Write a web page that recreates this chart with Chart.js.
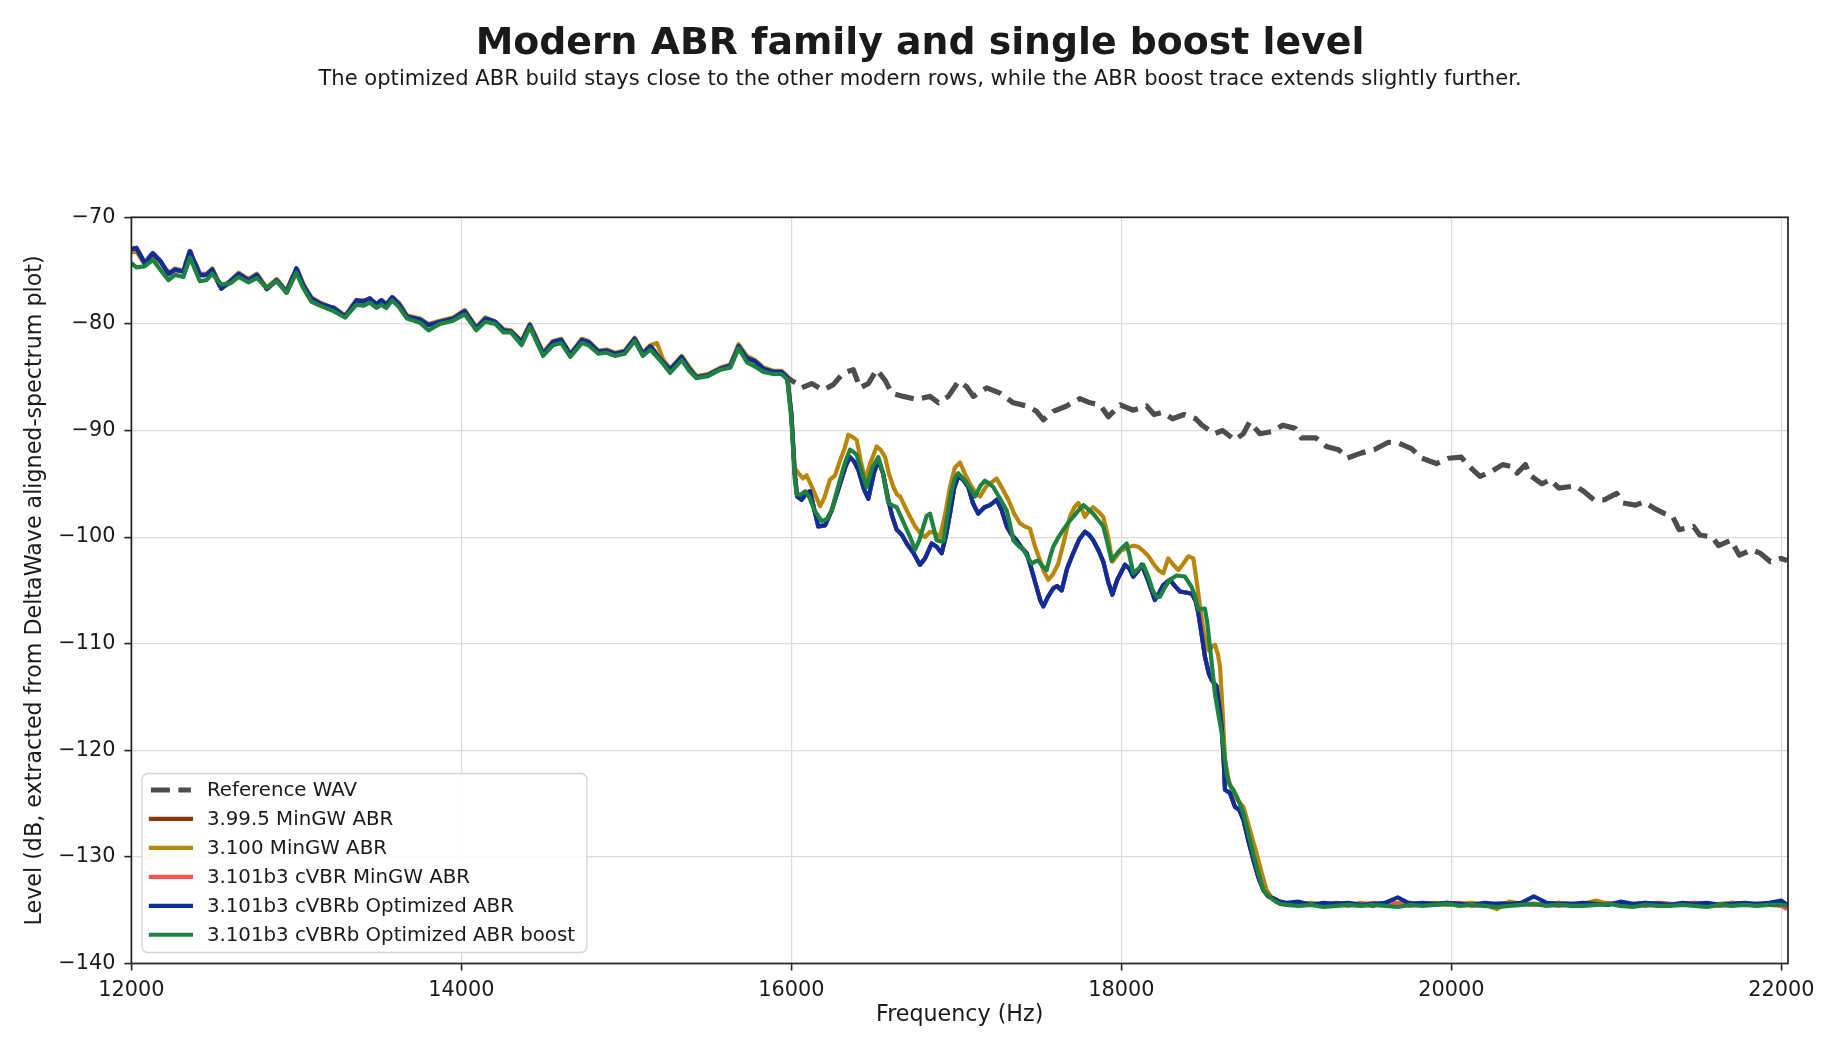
<!DOCTYPE html>
<html>
<head>
<meta charset="utf-8">
<title>Modern ABR family and single boost level</title>
<script src="https://cdn.jsdelivr.net/npm/chart.js@4.4.1/dist/chart.umd.min.js"></script>
<style>
  html, body { margin: 0; padding: 0; background: #fff; }
</style>
</head>
<body>
<canvas id="spectrum" width="1840" height="1056"></canvas>
<script>
"use strict";

//------------------------- data ---------------------------------------------
// 12000 - 16000 Hz, all encoders still follow the source
const headHz = [
  12000, 12030, 12080, 12130, 12180, 12225, 12265, 12315, 12355, 12415,
  12455, 12490, 12545, 12600, 12650, 12710, 12760, 12820, 12880, 12940,
  13000, 13040, 13090, 13145, 13225, 13295, 13365, 13405, 13445, 13485,
  13515, 13545, 13580, 13620, 13670, 13750, 13800, 13870, 13950, 14020,
  14090, 14145, 14205, 14255, 14300, 14365, 14415, 14495, 14555, 14605,
  14660, 14730, 14770, 14830, 14880, 14930, 14990, 15050, 15100, 15145,
  15185, 15225, 15265, 15335, 15380, 15425, 15495, 15570, 15630, 15680,
  15730, 15780, 15830, 15890, 15940, 15975
];
const headDb = [
  -73.0, -72.9, -74.3, -73.4, -74.2, -75.3, -74.9, -75.1, -73.2, -75.4,
  -75.4, -74.9, -76.7, -76.0, -75.3, -75.9, -75.4, -76.7, -75.9, -77.0,
  -74.8, -76.3, -77.6, -78.1, -78.5, -79.3, -77.8, -77.9, -77.6, -78.2,
  -77.8, -78.2, -77.5, -78.1, -79.3, -79.6, -80.1, -79.8, -79.5, -78.8,
  -80.4, -79.5, -79.8, -80.6, -80.7, -81.7, -80.1, -82.8, -81.7, -81.5,
  -82.9, -81.5, -81.7, -82.6, -82.5, -82.8, -82.6, -81.4, -82.8, -82.1,
  -82.9, -83.6, -84.3, -83.1, -84.2, -85.0, -84.8, -84.2, -83.9, -82.1,
  -83.2, -83.5, -84.2, -84.5, -84.5, -85.0
];
const goldHeadDb = [
  -73.3, -73.2, -74.4, -73.6, -74.3, -75.3, -74.8, -75.0, -73.5, -75.3,
  -75.3, -74.8, -76.6, -76.0, -75.2, -75.8, -75.3, -76.6, -75.8, -76.9,
  -74.9, -76.2, -77.5, -78.0, -78.5, -79.2, -77.8, -77.8, -77.7, -78.1,
  -77.9, -78.1, -77.6, -78.0, -79.2, -79.5, -80.0, -79.7, -79.4, -78.7,
  -80.3, -79.4, -79.8, -80.5, -80.6, -81.6, -80.0, -82.7, -81.6, -81.4,
  -82.8, -81.4, -81.6, -82.5, -82.4, -82.7, -82.5, -81.3, -82.7, -82.0,
  -81.8, -83.4, -84.2, -83.0, -84.0, -84.9, -84.7, -84.1, -83.8, -81.9,
  -83.0, -83.4, -84.1, -84.4, -84.4, -84.9
];
const boostHeadDb = [
  -74.3, -74.7, -74.6, -74.0, -75.0, -75.9, -75.4, -75.6, -73.8, -76.0,
  -75.9, -75.3, -76.3, -76.2, -75.6, -76.1, -75.7, -76.6, -76.0, -77.1,
  -75.2, -76.6, -77.9, -78.3, -78.8, -79.4, -78.2, -78.3, -78.0, -78.5,
  -78.2, -78.5, -77.8, -78.4, -79.5, -79.9, -80.6, -80.0, -79.7, -79.1,
  -80.6, -79.8, -80.0, -80.8, -80.8, -82.0, -80.3, -83.0, -82.0, -81.8,
  -83.1, -81.8, -82.0, -82.8, -82.7, -83.0, -82.8, -81.6, -83.0, -82.4,
  -83.1, -83.8, -84.6, -83.4, -84.4, -85.1, -84.9, -84.3, -84.1, -82.3,
  -83.6, -84.0, -84.5, -84.7, -84.7, -85.2
];

// 16000 - 19000 Hz, lowpass region (3.99.5 / cVBR MinGW / cVBRb optimized)
const dropHz = [
  16000, 16020, 16035, 16062, 16085, 16113, 16140, 16163, 16204, 16244,
  16295, 16330, 16355, 16380, 16406, 16440, 16466, 16500, 16527, 16555,
  16587, 16610, 16638, 16670, 16699, 16740, 16779, 16810, 16850, 16880,
  16911, 16935, 16961, 16985, 17011, 17040, 17072, 17100, 17132, 17170,
  17203, 17244, 17275, 17305, 17335, 17365, 17395, 17426, 17455, 17486,
  17510, 17527, 17555, 17587, 17610, 17638, 17670, 17708, 17745, 17779,
  17805, 17829, 17860, 17890, 17920, 17945, 17975, 18022, 18050, 18072,
  18100, 18123, 18160, 18203, 18230, 18254, 18294, 18325, 18355, 18390,
  18426, 18450, 18466, 18490, 18506, 18530, 18547, 18577, 18595, 18608,
  18620, 18628, 18658, 18688, 18715, 18739, 18770, 18800, 18830, 18860,
  18890, 18921, 18960
];
const dropDb = [
  -88.5, -94.0, -96.2, -96.5, -96.0, -95.7, -97.5, -99.0, -98.9, -97.5,
  -95.0, -93.3, -92.5, -92.9, -93.7, -95.5, -96.4, -94.0, -92.8, -94.0,
  -96.5, -98.0, -99.3, -99.8, -100.6, -101.5, -102.6, -102.0, -100.6, -100.9,
  -101.5, -100.0, -97.8, -95.5, -94.3, -94.6, -95.3, -96.8, -97.8, -97.2,
  -97.0, -96.5, -97.5, -99.0, -99.8, -100.3, -101.0, -101.5, -103.0, -104.7,
  -106.0, -106.5, -105.6, -104.8, -104.6, -105.0, -103.0, -101.5, -100.2, -99.5,
  -99.8, -100.3, -101.2, -102.3, -104.2, -105.4, -104.0, -102.6, -103.0, -103.7,
  -103.2, -102.6, -104.0, -105.9, -105.2, -104.5, -104.0, -104.6, -105.1, -105.2,
  -105.3, -106.0, -107.1, -109.5, -111.2, -112.8, -113.4, -114.0, -116.0, -117.8,
  -121.0, -123.7, -124.0, -125.3, -125.6, -126.5, -128.5, -130.3, -131.9, -133.1,
  -133.7, -133.9, -134.2
];

// 3.100 MinGW ABR
const goldDropHz = [
  16000, 16020, 16042, 16070, 16092, 16133, 16174, 16200, 16234, 16265,
  16295, 16320, 16345, 16370, 16396, 16420, 16446, 16480, 16517, 16540,
  16568, 16590, 16618, 16640, 16659, 16690, 16719, 16750, 16779, 16810,
  16840, 16870, 16900, 16930, 16961, 16990, 17022, 17050, 17082, 17115,
  17143, 17170, 17193, 17220, 17244, 17280, 17315, 17350, 17385, 17415,
  17446, 17475, 17507, 17530, 17557, 17585, 17617, 17650, 17688, 17715,
  17739, 17760, 17779, 17805, 17829, 17860, 17890, 17920, 17945, 17970,
  17995, 18035, 18072, 18100, 18133, 18165, 18194, 18225, 18254, 18284,
  18315, 18345, 18375, 18406, 18436, 18455, 18476, 18500, 18527, 18548,
  18567, 18585, 18598, 18612, 18628, 18650, 18668, 18700, 18739, 18780,
  18820, 18850, 18880, 18910, 18950
];
const goldDropDb = [
  -88.5, -93.5, -94.0, -94.5, -94.2, -95.6, -97.1, -96.3, -94.6, -94.2,
  -92.8, -91.8, -90.4, -90.6, -90.9, -92.8, -94.6, -93.0, -91.5, -91.8,
  -92.5, -94.0, -95.3, -96.0, -96.2, -97.2, -98.1, -99.0, -99.6, -100.0,
  -99.5, -99.6, -100.0, -98.0, -95.3, -93.5, -93.0, -94.0, -95.0, -95.8,
  -96.2, -95.5, -95.0, -94.8, -94.5, -95.5, -96.5, -97.8, -98.7, -99.0,
  -99.2, -100.8, -102.2, -103.2, -104.0, -103.5, -102.5, -100.5, -98.1, -97.2,
  -96.8, -97.4, -98.1, -97.5, -97.2, -97.6, -98.1, -100.0, -102.3, -101.8,
  -101.3, -101.0, -100.8, -100.9, -101.3, -101.8, -102.5, -103.1, -103.4, -102.0,
  -102.6, -103.1, -102.5, -101.8, -102.0, -104.0, -106.5, -109.0, -110.6, -110.3,
  -110.1, -111.0, -112.2, -116.0, -120.9, -122.8, -123.7, -124.6, -125.3, -127.5,
  -129.7, -131.5, -133.1, -133.8, -134.1
];

// 3.101b3 cVBRb Optimized ABR boost
const boostDropHz = [
  16000, 16020, 16032, 16060, 16083, 16110, 16140, 16184, 16215, 16244,
  16270, 16295, 16325, 16355, 16375, 16396, 16425, 16456, 16490, 16527,
  16555, 16587, 16610, 16638, 16670, 16699, 16725, 16749, 16775, 16800,
  16820, 16840, 16860, 16880, 16900, 16921, 16945, 16971, 16990, 17011,
  17040, 17062, 17090, 17112, 17145, 17173, 17200, 17223, 17265, 17305,
  17325, 17345, 17375, 17406, 17430, 17456, 17476, 17496, 17520, 17547,
  17565, 17587, 17615, 17648, 17680, 17708, 17740, 17769, 17800, 17829,
  17860, 17890, 17915, 17940, 17960, 17981, 18005, 18032, 18050, 18072,
  18100, 18133, 18165, 18190, 18213, 18234, 18260, 18294, 18335, 18385,
  18426, 18445, 18466, 18506, 18520, 18537, 18552, 18567, 18590, 18608,
  18625, 18638, 18655, 18678, 18710, 18739, 18770, 18800, 18830, 18860,
  18900, 18935, 18961
];
const boostDropDb = [
  -89.0, -94.5, -96.0, -96.0, -95.7, -96.3, -97.5, -98.5, -98.3, -97.5,
  -96.0, -94.6, -93.0, -91.8, -92.0, -92.3, -93.8, -95.3, -93.5, -92.5,
  -94.0, -96.8, -97.0, -97.2, -98.3, -99.3, -100.2, -101.2, -100.3, -99.0,
  -98.0, -97.8, -99.0, -100.3, -100.4, -100.4, -98.0, -95.6, -94.5, -94.0,
  -94.5, -94.9, -95.6, -96.2, -95.2, -94.7, -95.0, -95.3, -96.4, -97.5,
  -98.8, -100.3, -100.8, -101.2, -101.8, -102.5, -102.3, -102.2, -102.7, -103.1,
  -102.0, -100.9, -100.1, -99.3, -98.6, -98.1, -97.5, -97.0, -97.4, -97.8,
  -98.4, -99.0, -100.5, -102.2, -101.8, -101.4, -101.0, -100.6, -101.8, -103.4,
  -103.0, -102.6, -103.8, -105.0, -105.6, -105.6, -104.8, -104.0, -103.6, -103.7,
  -104.7, -105.5, -106.8, -106.7, -108.0, -110.3, -112.5, -114.7, -116.8, -118.4,
  -120.5, -122.2, -123.2, -123.7, -124.7, -125.9, -127.8, -129.8, -131.5, -133.1,
  -133.8, -134.2, -134.4
];

// 19000 - 22035 Hz, noise floor after the lowpass
const floorHz = [
  19000, 19075, 19150, 19225, 19300, 19375, 19450, 19525, 19600, 19675,
  19750, 19825, 19900, 19975, 20050, 20125, 20200, 20275, 20350, 20425,
  20500, 20575, 20650, 20725, 20800, 20875, 20950, 21025, 21100, 21175,
  21250, 21325, 21400, 21475, 21550, 21625, 21700, 21775, 21850, 21925,
  22000, 22035
];
const brownFloorDb = [
  -134.4, -134.3, -134.4, -134.5, -134.3, -134.4, -134.4, -134.6, -134.3, -134.4,
  -134.3, -134.5, -134.4, -134.3, -134.5, -134.4, -134.6, -134.4, -134.3, -134.4,
  -134.4, -134.5, -134.3, -134.4, -134.5, -134.3, -134.4, -134.4, -134.6, -134.4,
  -134.3, -134.4, -134.5, -134.4, -134.4, -134.6, -134.3, -134.4, -134.5, -134.4,
  -134.4, -134.7
];
const goldFloorDb = [
  -134.4, -134.4, -134.3, -134.5, -134.4, -134.6, -134.3, -134.5, -134.4, -134.3,
  -134.5, -134.4, -134.3, -134.5, -134.4, -134.3, -134.5, -134.9, -134.2, -134.4,
  -134.5, -134.4, -134.3, -134.5, -134.4, -134.1, -134.4, -134.3, -134.5, -134.3,
  -134.4, -134.5, -134.4, -134.3, -134.5, -134.4, -134.3, -134.5, -134.4, -134.4,
  -134.5, -134.6
];
const redFloorDb = [
  -134.5, -134.4, -134.5, -134.4, -134.6, -134.4, -134.5, -134.3, -134.5, -134.4,
  -134.6, -134.4, -134.5, -134.4, -134.3, -134.6, -134.5, -134.4, -134.5, -134.3,
  -134.5, -134.4, -134.6, -134.4, -134.5, -134.5, -134.3, -134.5, -134.4, -134.6,
  -134.4, -134.5, -134.4, -134.3, -134.5, -134.6, -134.4, -134.5, -134.4, -134.5,
  -134.6, -134.9
];
const blueFloorDb = [
  -134.3, -134.2, -134.5, -134.3, -134.4, -134.3, -134.5, -134.4, -134.3, -133.8,
  -134.4, -134.3, -134.4, -134.3, -134.4, -134.5, -134.3, -134.4, -134.4, -134.3,
  -133.7, -134.3, -134.4, -134.4, -134.3, -134.4, -134.5, -134.2, -134.4, -134.3,
  -134.4, -134.5, -134.3, -134.4, -134.3, -134.5, -134.4, -134.3, -134.4, -134.3,
  -134.1, -134.5
];
const boostFloorDb = [
  -134.5, -134.6, -134.5, -134.7, -134.6, -134.5, -134.6, -134.5, -134.6, -134.7,
  -134.5, -134.6, -134.5, -134.4, -134.6, -134.5, -134.6, -134.7, -134.6, -134.5,
  -134.4, -134.6, -134.5, -134.6, -134.6, -134.5, -134.4, -134.6, -134.7, -134.5,
  -134.6, -134.6, -134.5, -134.6, -134.7, -134.5, -134.6, -134.5, -134.6, -134.5,
  -134.5, -134.6
];

// Reference WAV above 16000 Hz (below that it sits under the encoder rows)
const refHz = [
  16000, 16032, 16062, 16123, 16193, 16254, 16314, 16375, 16416, 16466,
  16517, 16568, 16608, 16679, 16760, 16840, 16891, 16951, 17012, 17062,
  17103, 17184, 17264, 17345, 17426, 17486, 17527, 17587, 17668, 17749,
  17810, 17870, 17921, 17993, 18072, 18153, 18198, 18250, 18311, 18380,
  18450, 18488, 18563, 18613, 18689, 18739, 18777, 18840, 18915, 18978,
  19053, 19091, 19179, 19242, 19317, 19367, 19456, 19531, 19619, 19682,
  19758, 19821, 19909, 19984, 20060, 20097, 20173, 20235, 20311, 20373,
  20398, 20449, 20475, 20549, 20600, 20650, 20751, 20801, 20864, 20927,
  21002, 21040, 21116, 21166, 21229, 21292, 21342, 21380, 21468, 21505,
  21581, 21619, 21694, 21745, 21820, 21870, 21933, 21996, 22035
];
const refDb = [
  -85.3, -85.6, -86.0, -85.6, -86.2, -85.7, -84.6, -84.3, -86.0, -85.6,
  -84.3, -85.3, -86.5, -86.8, -87.1, -86.8, -87.4, -86.8, -85.4, -85.9,
  -86.8, -86.0, -86.5, -87.4, -87.7, -88.2, -89.0, -88.2, -87.7, -87.0,
  -87.4, -87.6, -88.7, -87.6, -88.1, -87.7, -88.5, -88.3, -88.9, -88.5,
  -88.9, -89.5, -90.3, -90.0, -90.9, -90.3, -89.2, -90.3, -90.1, -89.5,
  -89.8, -90.7, -90.7, -91.5, -91.8, -92.6, -92.1, -91.8, -91.1, -91.2,
  -91.7, -92.6, -93.1, -92.6, -92.5, -93.2, -94.3, -93.9, -93.2, -93.4,
  -94.0, -93.2, -94.2, -95.0, -94.6, -95.4, -95.2, -95.7, -96.5, -96.5,
  -95.9, -96.8, -97.0, -96.7, -97.3, -97.8, -98.1, -99.3, -99.0, -99.8,
  -100.0, -100.8, -100.3, -101.7, -101.2, -101.5, -102.3, -102.0, -102.2
];

const xTickValues = [12000, 14000, 16000, 18000, 20000, 22000];
const yTickValues = [-140, -130, -120, -110, -100, -90, -80, -70];

const seriesNames = [
  "Reference WAV",
  "3.99.5 MinGW ABR",
  "3.100 MinGW ABR",
  "3.101b3 cVBR MinGW ABR",
  "3.101b3 cVBRb Optimized ABR",
  "3.101b3 cVBRb Optimized ABR boost"
];
const seriesColors = ["#4d4d4d", "#8b3a0c", "#b8860b", "#ff5050", "#0a2f9a", "#1e8240"];

const titleText = "Modern ABR family and single boost level";
const subtitleText = "The optimized ABR build stays close to the other modern rows, while the ABR boost trace extends slightly further.";

//------------------------- build the point lists ----------------------------
function pairs(hz, db) {
  return hz.map((x, i) => ({ x: x, y: db[i] }));
}

const seriesPoints = [
  pairs(headHz, headDb).concat(pairs(refHz, refDb)),
  pairs(headHz, headDb).concat(pairs(dropHz, dropDb), pairs(floorHz, brownFloorDb)),
  pairs(headHz, goldHeadDb).concat(pairs(goldDropHz, goldDropDb), pairs(floorHz, goldFloorDb)),
  pairs(headHz, headDb).concat(pairs(dropHz, dropDb), pairs(floorHz, redFloorDb)),
  pairs(headHz, headDb).concat(pairs(dropHz, dropDb), pairs(floorHz, blueFloorDb)),
  pairs(headHz, boostHeadDb).concat(pairs(boostDropHz, boostDropDb), pairs(floorHz, boostFloorDb))
];

const FONT = "DejaVu Sans";
const INK = "#1a1a1a";

let datasets = seriesNames.map((name, i) => ({
  label: name,
  data: seriesPoints[i],
  borderColor: seriesColors[i],
  borderWidth: i === 0 ? 5.2 : 4.2,
  borderDash: i === 0 ? [19, 8.5] : [],
  borderJoinStyle: "round",
  borderCapStyle: "butt",
  pointRadius: 0,
  tension: 0,
  fill: false,
  // matplotlib draws later rows on top: lower order is drawn last
  order: seriesNames.length - i
}));

//------------------------- small plugins ------------------------------------
// black box round the plot, like the matplotlib spines
const frame = {
  id: "frame",
  afterDatasetsDraw(chart) {
    const a = chart.chartArea;
    const ctx = chart.ctx;
    ctx.save();
    ctx.strokeStyle = "#222";
    ctx.lineWidth = 1.7;
    ctx.strokeRect(a.left, a.top, a.right - a.left, a.bottom - a.top);
    ctx.restore();
  }
};

// legend inside the plot, bottom left
const legendBox = {
  id: "legendBox",
  afterDraw(chart) {
    const a = chart.chartArea;
    const ctx = chart.ctx;
    const x = a.left + 10.5, w = 445, h = 179;
    const y = a.bottom - 11 - h;
    ctx.save();
    ctx.beginPath();
    ctx.roundRect(x, y, w, h, 6);
    ctx.fillStyle = "rgba(255,255,255,0.85)";
    ctx.fill();
    ctx.strokeStyle = "#d4d4d4";
    ctx.lineWidth = 1.3;
    ctx.stroke();

    ctx.font = "19.8px '" + FONT + "'";
    ctx.textBaseline = "middle";
    chart.data.datasets.forEach((ds, i) => {
      const rowY = y + 16.5 + i * 28.95;
      ctx.beginPath();
      ctx.setLineDash(ds.borderDash);
      ctx.lineCap = ds.borderDash.length ? "butt" : "square";
      ctx.strokeStyle = ds.borderColor;
      ctx.lineWidth = ds.borderWidth;
      ctx.moveTo(x + 9, rowY);
      ctx.lineTo(x + 49, rowY);
      ctx.stroke();
      ctx.setLineDash([]);
      ctx.fillStyle = INK;
      ctx.fillText(ds.label, x + 65, rowY + 1);
    });
    ctx.restore();
  }
};

// title and subtitle
const titles = {
  id: "titles",
  afterDraw(chart) {
    const ctx = chart.ctx;
    ctx.save();
    ctx.fillStyle = INK;
    ctx.textAlign = "center";
    ctx.textBaseline = "alphabetic";
    ctx.font = "bold 37.8px '" + FONT + "'";
    ctx.fillText(titleText, chart.width / 2, 53.5);
    ctx.font = "21.1px '" + FONT + "'";
    ctx.fillText(subtitleText, chart.width / 2, 85);
    ctx.restore();
  }
};

//------------------------- chart --------------------------------------------
const tickFont = { family: FONT, size: 20.8 };
const labelFont = { family: FONT, size: 22.2 };
const gridStyle = {
  color: "#dcdcdc",
  lineWidth: 1.2,
  drawTicks: true,
  tickColor: "#222",
  tickLength: 7,
  tickWidth: 1.6
};

new Chart(document.getElementById("spectrum"), {
  type: "line",
  data: { datasets: datasets },
  options: {
    responsive: false,
    animation: false,
    devicePixelRatio: 1,
    layout: { padding: { top: 217.3, right: 52, left: 0, bottom: 0 } },
    plugins: {
      legend: { display: false },
      title: { display: false },
      tooltip: { enabled: false }
    },
    scales: {
      x: {
        type: "linear",
        min: 12000,
        max: 22040,
        afterFit(scale) { scale.height = 92.5; },
        afterBuildTicks(scale) { scale.ticks = xTickValues.map(v => ({ value: v })); },
        border: { display: false },
        grid: gridStyle,
        ticks: {
          maxRotation: 0,
          autoSkip: false,
          padding: 7.5,
          color: INK,
          font: tickFont,
          callback: (v) => String(v)
        },
        title: {
          display: true,
          text: "Frequency (Hz)",
          color: INK,
          font: labelFont,
          padding: { top: 0, bottom: 27.7 }
        }
      },
      y: {
        type: "linear",
        min: -140,
        max: -70,
        afterFit(scale) { scale.width = 131.4; },
        afterBuildTicks(scale) { scale.ticks = yTickValues.map(v => ({ value: v })); },
        border: { display: false },
        grid: gridStyle,
        ticks: {
          autoSkip: false,
          padding: 9,
          color: INK,
          font: tickFont,
          callback: (v) => String(v).replace("-", "\u2212")
        },
        title: {
          display: true,
          text: "Level (dB, extracted from DeltaWave aligned-spectrum plot)",
          color: INK,
          font: labelFont,
          padding: { top: 21.7, bottom: 0 }
        }
      }
    }
  },
  plugins: [frame, legendBox, titles]
});
</script>
</body>
</html>
